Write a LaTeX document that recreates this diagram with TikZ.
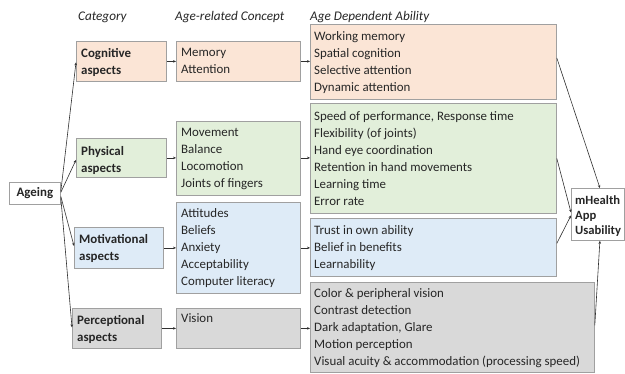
\documentclass[tikz,border=0pt]{standalone}
\usepackage{fontspec}
\setmainfont{Carlito}
\usetikzlibrary{arrows.meta,calc}
\definecolor{cogfill}{HTML}{FBE5D6}
\definecolor{phyfill}{HTML}{E2EFDA}
\definecolor{motfill}{HTML}{DEEBF7}
\definecolor{perfill}{HTML}{D9D9D9}
\definecolor{boxline}{HTML}{A0A0A0}
\definecolor{ink}{HTML}{262626}
\definecolor{wire}{HTML}{303030}
\begin{document}
\begin{tikzpicture}[x=1pt,y=-1pt,
  box/.style={draw=boxline, line width=0.8pt, rectangle, inner sep=0pt, anchor=north west},
  txt/.style={anchor=north west, inner sep=0pt, align=left, text=ink,
              font=\fontsize{12.9}{17}\selectfont},
  btxt/.style={txt, font=\fontsize{12.9}{17}\selectfont\bfseries},
  head/.style={anchor=west, inner sep=0pt, text=ink,
               font=\fontsize{13.2}{15}\selectfont\itshape},
  link/.style={draw=wire, line width=0.6pt, -{Stealth[length=3pt,width=2.6pt]}}]
\useasboundingbox (0,0) rectangle (625,374);

% column headings
\node[head] (h1) at (78,17) {Category};
\node[head] (h2) at (175,17) {Age-related Concept};
\node[head] (h3) at (310,17) {Age Dependent Ability};

% start and end boxes
\node[box, fill=white, minimum width=51pt, minimum height=22pt] (age) at (9,182) {};
\node[anchor=center, inner sep=0pt, text=ink, font=\fontsize{12.9}{15}\selectfont\bfseries]
  at (age.center) {Ageing};
\node[box, fill=white, minimum width=53pt, minimum height=52pt] (mh) at (571,188) {};
\node[txt, font=\fontsize{12.6}{15}\selectfont\bfseries] at ($(mh.north west)+(4,7)$)
  {mHealth\\App\\Usability};

% category column
\node[box, fill=cogfill, minimum width=90pt, minimum height=40pt] (cog) at (76,41) {};
\node[btxt] at ($(cog.north west)+(5,7)$) {Cognitive\\aspects};
\node[box, fill=phyfill, minimum width=90pt, minimum height=39pt] (phy) at (76,138) {};
\node[btxt] at ($(phy.north west)+(5,8)$) {Physical\\aspects};
\node[box, fill=motfill, minimum width=89pt, minimum height=41pt] (mot) at (74,227) {};
\node[btxt] at ($(mot.north west)+(5,7)$) {Motivational\\aspects};
\node[box, fill=perfill, minimum width=89pt, minimum height=40pt] (per) at (72,308) {};
\node[btxt] at ($(per.north west)+(5,7)$) {Perceptional\\aspects};

% concept column
\node[box, fill=cogfill, minimum width=124pt, minimum height=40pt] (mem) at (176,41) {};
\node[txt] at ($(mem.north west)+(5,7)$) {Memory\\Attention};
\node[box, fill=phyfill, minimum width=124pt, minimum height=74pt] (mov) at (176,121) {};
\node[txt] at ($(mov.north west)+(5,7)$) {Movement\\Balance\\Locomotion\\Joints of fingers};
\node[box, fill=motfill, minimum width=124pt, minimum height=91pt] (att) at (176,202) {};
\node[txt] at ($(att.north west)+(5,6)$) {Attitudes\\Beliefs\\Anxiety\\Acceptability\\Computer literacy};
\node[box, fill=perfill, minimum width=124pt, minimum height=40pt] (vis) at (176,308) {};
\node[txt] at ($(vis.north west)+(5,5)$) {Vision};

% ability column
\node[box, fill=cogfill, minimum width=246pt, minimum height=75pt] (cab) at (310,24) {};
\node[txt] at ($(cab.north west)+(4,7)$)
  {Working memory\\Spatial cognition\\Selective attention\\Dynamic attention};
\node[box, fill=phyfill, minimum width=246pt, minimum height=110pt] (pab) at (310,103) {};
\node[txt] at ($(pab.north west)+(4,8)$)
  {Speed of performance, Response time\\Flexibility (of joints)\\Hand eye coordination\\Retention in hand movements\\Learning time\\Error rate};
\node[box, fill=motfill, minimum width=246pt, minimum height=58pt] (mab) at (310,218) {};
\node[txt] at ($(mab.north west)+(4,7)$)
  {Trust in own ability\\Belief in benefits\\Learnability};
\node[box, fill=perfill, minimum width=284pt, minimum height=90pt] (vab) at (310,282) {};
\node[txt] at ($(vab.north west)+(4,6)$)
  {Color \& peripheral vision\\Contrast detection\\Dark adaptation, Glare\\Motion perception\\Visual acuity \& accommodation (processing speed)};

% Ageing fans out to the four categories
\draw[link] ($(age.east)+(0,-2)$) -- ($(cog.west)+(0,1)$);
\draw[link] ($(age.east)+(0,-1)$) -- ($(phy.west)+(0,2)$);
\draw[link] ($(age.east)+(0,3)$) -- ($(mot.west)+(0,-2)$);
\draw[link] ($(age.east)+(0,4)$) -- ($(per.west)+(0,-1)$);

% rows: category -> concept -> ability
\draw[link] (cog.east) -- (cog.east -| mem.west);
\draw[link] (mem.east) -- (mem.east -| cab.west);
\draw[link] (phy.east) -- (phy.east -| mov.west);
\draw[link] (phy.east -| mov.east) -- (phy.east -| pab.west);
\draw[link] (mot.east) -- (mot.east -| att.west);
\draw[link] (mot.east -| att.east) -- (mot.east -| mab.west);
\draw[link] (per.east) -- (per.east -| vis.west);
\draw[link] (vis.east) -- (vis.east -| vab.west);

% abilities converge on usability
\draw[link] ($(cab.east)+(0,-4)$) -- ($(mh.north)+(2,0)$);
\draw[link] (pab.east) -- ($(mh.west)+(0,-2)$);
\draw[link] ($(mab.east)+(0,-4)$) -- ($(mh.west)+(0,1)$);
\draw[link] ($(vab.east)+(0,-2)$) -- ($(mh.south)+(2,0)$);
\end{tikzpicture}
\end{document}
